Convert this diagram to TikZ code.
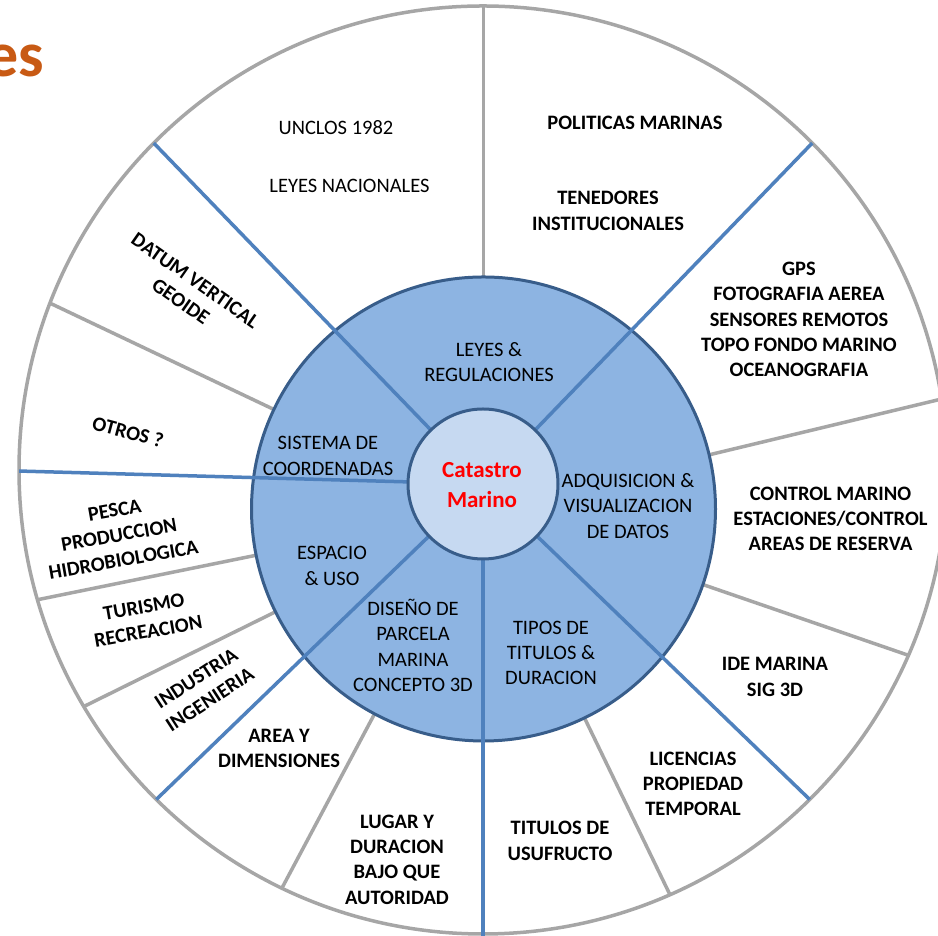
\documentclass[tikz,border=0pt]{standalone}
\usepackage{fontspec}
\setmainfont{Carlito}
\definecolor{gline}{RGB}{166,166,166}
\definecolor{spokeblue}{RGB}{79,129,189}
\definecolor{ringfill}{RGB}{141,180,226}
\definecolor{innerfill}{RGB}{198,217,241}
\definecolor{ringedge}{RGB}{56,93,138}
\definecolor{titleorange}{RGB}{200,90,20}
\begin{document}
\begin{tikzpicture}[x=1pt,y=1pt,
  grayline/.style={draw=gline,line width=3.5pt},
  spoke/.style={draw=spokeblue,line width=3.5pt},
  outertxt/.style={font=\bfseries\fontsize{20.5}{25.3}\selectfont,align=center,inner sep=0pt,text=black},
  outerreg/.style={font=\fontsize{20.5}{25.3}\selectfont,align=center,inner sep=0pt,text=black},
  innertxt/.style={font=\fontsize{20.5}{25.3}\selectfont,align=center,inner sep=0pt,text=black}]
\useasboundingbox (0,0) rectangle (938,936);
\coordinate (C0) at (483,466);
\coordinate (C1) at (483,452);
\coordinate (C2) at (483.5,427);
% title fragment
\node[font=\bfseries\fontsize{64}{70}\selectfont,text=titleorange,anchor=base east,inner sep=0pt] (title) at (44,859) {es};
% outer circle
\draw[grayline,fill=white] (C0) circle (464);
% gray dividers of outer ring
\begin{scope}
\clip (C0) circle (464);
\foreach \a in {90,154.6,191.5,206.3,242,295.8,341,13.5}
  \draw[grayline] (C2) -- ++(\a:600);
\end{scope}
% blue ring
\draw[draw=ringedge,line width=3pt,fill=ringfill] (C2) circle (232);
% blue spokes
\begin{scope}
\clip (C0) circle (464);
\foreach \a in {46,134,178.4,224,316}
  \draw[spoke] (C1) -- ++(\a:600);
\end{scope}
\coordinate (bottomend) at (483,0);
\draw[spoke] (C1) -- (bottomend);
% inner circle
\node[circle,draw=ringedge,line width=3pt,fill=innerfill,minimum size=150pt,inner sep=0pt] (core) at (C1) {};
\node[font=\bfseries\fontsize{23}{30}\selectfont,text=red,align=center,inner sep=0pt] (coretxt) at (482,451) {Catastro\\Marino};
% inner ring labels
\node[innertxt] (leyes) at (489,574) {LEYES \&\\REGULACIONES};
\node[innertxt] (sistema) at (328,480) {SISTEMA DE\\COORDENADAS};
\node[innertxt] (espacio) at (332,370) {ESPACIO\\\& USO};
\node[innertxt] (diseno) at (413,290.5) {DISEÑO DE\\PARCELA\\MARINA\\CONCEPTO 3D};
\node[innertxt] (tipos) at (551,283) {TIPOS DE\\TITULOS \&\\DURACION};
\node[innertxt] (adq) at (628,430) {ADQUISICION \&\\VISUALIZACION\\DE DATOS};
% outer ring labels
\node[outerreg] (unclos) at (336,808) {UNCLOS 1982};
\node[outerreg] (leyesnac) at (349.5,750) {LEYES NACIONALES};
\node[outertxt] (politicas) at (635,813) {POLITICAS MARINAS};
\node[outertxt] (tenedores) at (608,725) {TENEDORES\\INSTITUCIONALES};
\node[outertxt] (gps) at (799,616.5) {GPS\\FOTOGRAFIA AEREA\\SENSORES REMOTOS\\TOPO FONDO MARINO\\OCEANOGRAFIA};
\node[outertxt] (control) at (830.5,417) {CONTROL MARINO\\ESTACIONES/CONTROL\\AREAS DE RESERVA};
\node[outertxt] (ide) at (775,259) {IDE MARINA\\SIG 3D};
\node[outertxt] (licencias) at (693,152) {LICENCIAS\\PROPIEDAD\\TEMPORAL};
\node[outertxt] (titulos) at (560,95) {TITULOS DE\\USUFRUCTO};
\node[outertxt] (lugar) at (397,76.5) {LUGAR Y\\DURACION\\BAJO QUE\\AUTORIDAD};
\node[outertxt] (area) at (279,187.5) {AREA Y\\DIMENSIONES};
\node[outertxt,rotate=33] (industria) at (203,247) {INDUSTRIA\\INGENIERIA};
\node[outertxt,rotate=10] (turismo) at (146,317) {TURISMO\\RECREACION};
\node[outertxt,rotate=10] (pesca) at (119,401) {PESCA\\PRODUCCION\\HIDROBIOLOGICA};
\node[outertxt,rotate=-15] (otros) at (128,504) {OTROS ?};
\node[outertxt,rotate=-35] (datum) at (188,645) {DATUM VERTICAL\\GEOIDE};
\end{tikzpicture}
\end{document}
